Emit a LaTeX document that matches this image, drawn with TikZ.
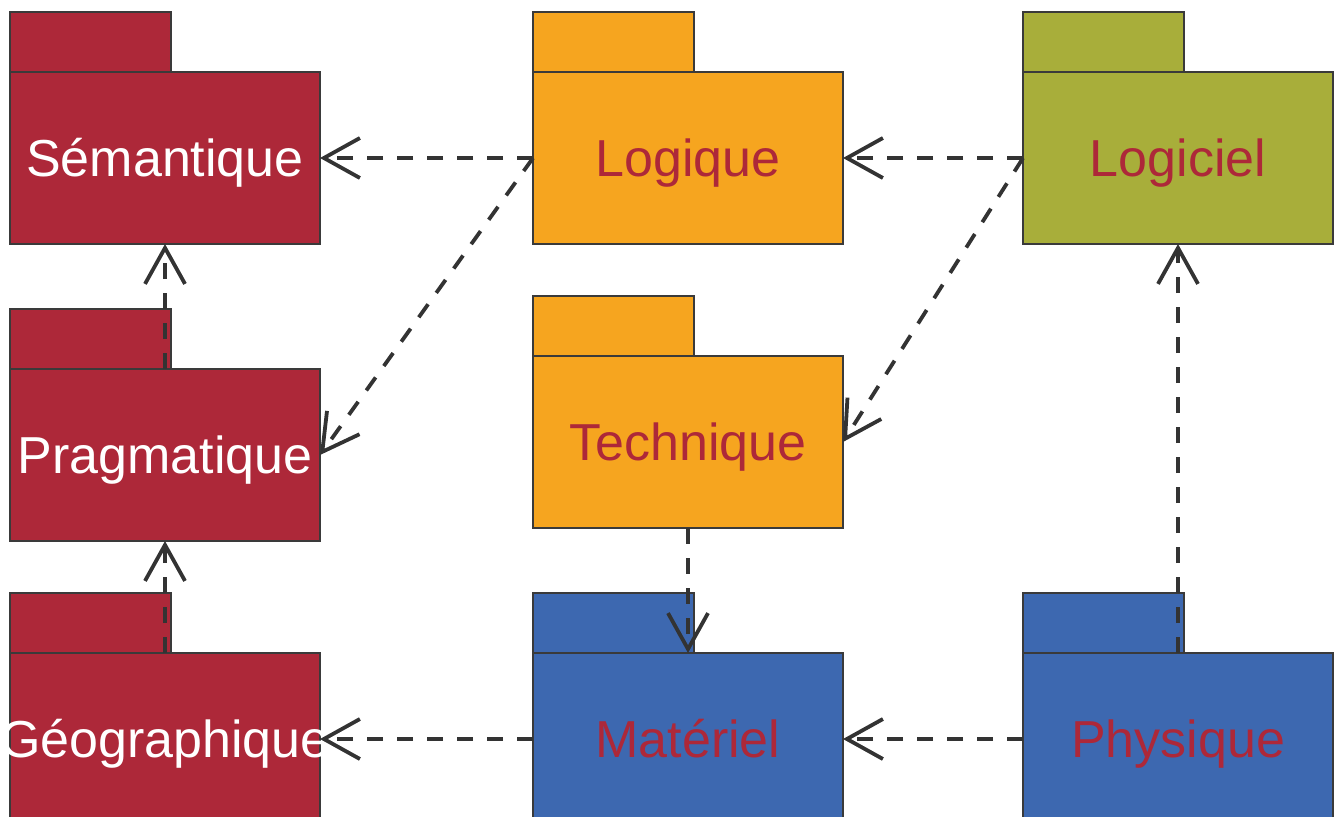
\documentclass[tikz,border=0pt]{standalone}
\usepackage{fontspec}
\setmainfont{Liberation Sans}
\usetikzlibrary{arrows.meta}
\definecolor{pred}{HTML}{AD2839}
\definecolor{porange}{HTML}{F6A51F}
\definecolor{polive}{HTML}{A8AE3A}
\definecolor{pblue}{HTML}{3D68B0}
\definecolor{edge}{HTML}{3A3A3A}
\definecolor{arr}{HTML}{333333}
\begin{document}
\begin{tikzpicture}[x=1pt,y=-1pt,
  body/.style={draw=edge, line width=1.3pt, minimum width=310pt, minimum height=172pt, inner sep=0pt, outer sep=0pt},
  tab/.style={draw=edge, line width=1.3pt, minimum width=161pt, minimum height=60pt, inner sep=0pt, outer sep=0pt, anchor=south west},
  lbl/.style={anchor=base, inner sep=0pt, font=\fontsize{52}{60}\selectfont},
  dep/.style={draw=arr, line width=3.8pt, dash pattern=on 16pt off 14pt, -{Straight Barb[length=36pt,width=40pt,line width=3.8pt]}}
]
\useasboundingbox (0,0) rectangle (1340,816);
% row 1
\node[body, fill=pred] (sem) at (165,158) {};
\node[tab, fill=pred] (semtab) at (sem.north west) {};
\node[body, fill=porange] (log) at (688,158) {};
\node[tab, fill=porange] (logtab) at (log.north west) {};
\node[body, fill=polive] (lgc) at (1178,158) {};
\node[tab, fill=polive] (lgctab) at (lgc.north west) {};
% row 2
\node[body, fill=pred] (prag) at (165,455) {};
\node[tab, fill=pred] (pragtab) at (prag.north west) {};
\node[body, fill=porange] (tech) at (688,442) {};
\node[tab, fill=porange] (techtab) at (tech.north west) {};
% row 3
\node[body, fill=pred] (geo) at (165,739) {};
\node[tab, fill=pred] (geotab) at (geo.north west) {};
\node[body, fill=pblue] (mat) at (688,739) {};
\node[tab, fill=pblue] (mattab) at (mat.north west) {};
\node[body, fill=pblue] (phy) at (1178,739) {};
\node[tab, fill=pblue] (phytab) at (phy.north west) {};
% labels
\node[lbl, text=white] (semt) at ([yshift=-18.5pt]sem.center) {Sémantique};
\node[lbl, text=pred] (logt) at ([yshift=-18.5pt]log.center) {Logique};
\node[lbl, text=pred] (lgct) at ([yshift=-18.5pt]lgc.center) {Logiciel};
\node[lbl, text=white] (pragt) at ([yshift=-18.5pt]prag.center) {Pragmatique};
\node[lbl, text=pred] (techt) at ([yshift=-18.5pt]tech.center) {Technique};
\node[lbl, text=white] (geot) at ([yshift=-18.5pt]geo.center) {Géographique};
\node[lbl, text=pred] (matt) at ([yshift=-18.5pt]mat.center) {Matériel};
\node[lbl, text=pred] (phyt) at ([yshift=-18.5pt]phy.center) {Physique};
% dependencies
\draw[dep] (log.west) -- (sem.east);
\draw[dep] (lgc.west) -- (log.east);
\draw[dep] (log.west) -- (prag.east);
\draw[dep] (lgc.west) -- (tech.east);
\draw[dep] (prag.north) -- (sem.south);
\draw[dep] (geo.north) -- (prag.south);
\draw[dep] (tech.south) -- (mat.north);
\draw[dep] (phy.north) -- (lgc.south);
\draw[dep] (mat.west) -- (geo.east);
\draw[dep] (phy.west) -- (mat.east);
\end{tikzpicture}
\end{document}
